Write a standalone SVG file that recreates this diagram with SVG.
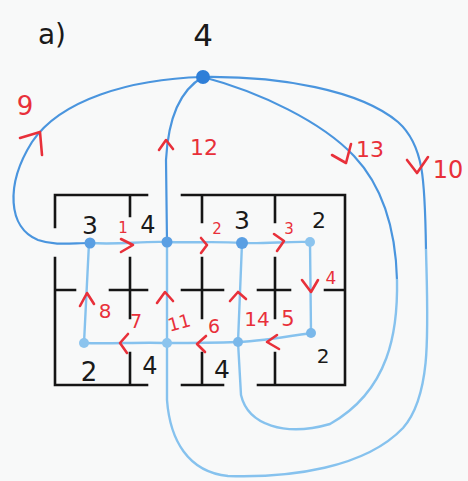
<svg xmlns="http://www.w3.org/2000/svg" width="468" height="481" viewBox="0 0 468 481">
<style>
.wall{fill:none;stroke:#151515;stroke-width:2.6;stroke-linecap:square}
.e{fill:none;stroke:#4a95de;stroke-width:2.2;stroke-linecap:round}
.el{fill:none;stroke:#86c2ee;stroke-width:2.4;stroke-linecap:round}
.chev{fill:none;stroke:#e8303a;stroke-width:2.6;stroke-linecap:round;stroke-linejoin:round}
.rl{fill:#e8303a;font-family:"DejaVu Sans","Liberation Sans",sans-serif;text-anchor:middle}
.bl{fill:#1a1a1a;font-family:"DejaVu Sans","Liberation Sans",sans-serif;text-anchor:middle}
.nd{fill:#5a9fe3}
</style>
<rect width="468" height="481" fill="#f8f9f9"/>
<text class="bl" x="52" y="44" font-size="28">a)</text>

<g id="walls">
<path class="wall" d="M55,227 L55,195 L147,195 M130,195 L130,216 M55,258 L55,385 L147,385 M55,290 L75,290 M110,290 L147,290 M130,258 L130,318 M130,353 L130,385"/>
<path class="wall" d="M182,195 L345,195 L345,385 L258,385 M202,195 L202,222 M275,195 L275,222 M182,290 L223,290 M202,258 L202,318 M258,290 L290,290 M275,258 L275,318 M325,290 L345,290 M182,385 L223,385 M202,353 L202,385 M275,353 L275,385"/>
</g>

<g id="connectors">
<path id="e9" class="e" d="M203,77 C130,79 60,100 32,142 C5,185 8,228 38,240 C55,246 72,243 90,243"/>
<path id="e1" class="el" d="M90,243 C120,245 140,241 167,242"/>
<path id="e2" class="el" d="M167,242 C195,243 215,241 242,243"/>
<path id="e3" class="el" d="M242,243 C265,244 290,241 310,242"/>
<path id="e4" class="el" d="M310,242 L311,333"/>
<path id="e5" class="el" d="M311,333 C285,337 262,341 238,342"/>
<path id="e6" class="el" d="M238,342 C210,343 190,343 167,343"/>
<path id="e7" class="el" d="M167,343 C140,342 110,344 84,343"/>
<path id="e8" class="el" d="M84,343 L89,243"/>
<path id="e11" class="el" d="M167,343 L167,242"/>
<path id="e12" class="e" d="M203,77 C180,90 168,120 166,160 L167,242"/>
<path id="e10" class="e" d="M203,77 C280,76 360,90 398,122 C424,145 425,180 426,250"/>
<path id="e10b" class="el" d="M426,250 C428,330 432,395 403,428 C365,468 290,478 228,476 C188,472 170,440 167,400 L167,343"/>
<path id="e13" class="e" d="M203,77 C260,92 322,122 354,156 C388,192 396,240 397,280"/>
<path id="e13b" class="el" d="M397,280 C398,330 390,390 330,424 C285,437 248,425 241,395 L238,342"/>
<path id="e14" class="el" d="M238,342 L242,243"/>
</g>

<g id="arrows">
<path class="chev" d="M20,138 L40,132 L42,155"/>
<path class="chev" d="M159,150 L166,140 L173,149"/>
<path class="chev" d="M332,155 L346,163 L351,144"/>
<path class="chev" d="M407,160 L417,173 L428,157"/>
<path class="chev" d="M121,239 L133,245 L121,252"/>
<path class="chev" d="M201,238 L207,245 L201,253"/>
<path class="chev" d="M274,234 L284,241 L277,251"/>
<path class="chev" d="M302,280 L311,292 L318,280"/>
<path class="chev" d="M277,335 L267,342 L279,349"/>
<path class="chev" d="M206,336 L197,344 L205,352"/>
<path class="chev" d="M128,334 L120,343 L127,353"/>
<path class="chev" d="M80,306 L87,293 L94,304"/>
<path class="chev" d="M157,303 L165,292 L173,301"/>
<path class="chev" d="M230,301 L238,292 L246,299"/>
<text class="rl" x="25" y="115" font-size="26">9</text>
<text class="rl" x="204" y="155" font-size="22">12</text>
<text class="rl" x="370" y="157" font-size="22">13</text>
<text class="rl" x="448" y="178" font-size="24">10</text>
<text class="rl" x="123" y="233" font-size="15">1</text>
<text class="rl" x="217" y="234" font-size="15">2</text>
<text class="rl" x="289" y="234" font-size="15">3</text>
<text class="rl" x="331" y="284" font-size="17">4</text>
<text class="rl" x="288" y="326" font-size="21">5</text>
<text class="rl" x="257" y="326" font-size="20">14</text>
<text class="rl" x="214" y="333" font-size="19">6</text>
<text class="rl" x="179" y="329" font-size="18" transform="rotate(-15 179 322)">11</text>
<text class="rl" x="136" y="328" font-size="19">7</text>
<text class="rl" x="105" y="318" font-size="20">8</text>
</g>

<g id="n_top"><circle cx="203" cy="77" r="7" fill="#2f7fd8"/><text class="bl" x="203" y="46" font-size="31">4</text></g>
<g id="n_a1"><circle class="nd" cx="90" cy="243" r="5.5"/><text class="bl" x="90" y="234" font-size="25">3</text></g>
<g id="n_a2"><circle class="nd" cx="167" cy="242" r="5.5"/><text class="bl" x="148" y="233" font-size="24">4</text></g>
<g id="n_a3"><circle class="nd" cx="242" cy="243" r="6"/><text class="bl" x="242" y="229" font-size="25">3</text></g>
<g id="n_a4"><circle cx="310" cy="242" r="5" fill="#8cc4ee"/><text class="bl" x="319" y="228" font-size="22">2</text></g>
<g id="n_b1"><circle cx="84" cy="343" r="5" fill="#8cc4ee"/><text class="bl" x="89" y="381" font-size="26">2</text></g>
<g id="n_b2"><circle cx="167" cy="343" r="5" fill="#8cc4ee"/><text class="bl" x="150" y="374" font-size="24">4</text></g>
<g id="n_b3"><circle cx="238" cy="342" r="5" fill="#7ab8ea"/><text class="bl" x="222" y="378" font-size="25">4</text></g>
<g id="n_b4"><circle cx="311" cy="333" r="5" fill="#7ab8ea"/><text class="bl" x="323" y="363" font-size="20">2</text></g>
</svg>
